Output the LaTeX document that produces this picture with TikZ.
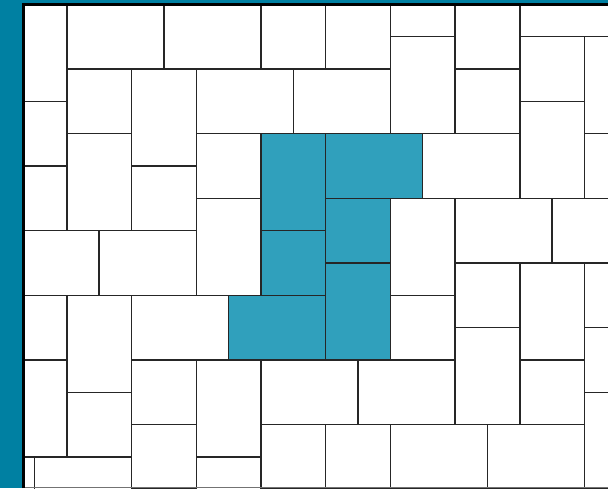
\documentclass[tikz,border=0pt]{standalone}
\definecolor{bgteal}{RGB}{0,128,162}
\definecolor{tileteal}{RGB}{48,160,188}
\tikzset{
  tile/.style={draw=black!85, line width=0.75pt, fill=white},
  tealtile/.style={draw=black!85, line width=0.75pt, fill=tileteal},
  frameline/.style={draw=black, line width=1.5pt}
}
\begin{document}
\begin{tikzpicture}[x=0.5pt,y=-0.5pt]
\useasboundingbox (0,0) rectangle (608,488);
\fill[bgteal] (0,0) rectangle (608,488);
\fill[white] (23.5,4.5) rectangle (608,488);
\begin{scope}
\clip (23.5,4.5) rectangle (608,488);
\begin{scope}[shift={(34.5,4.4)}, x=16.175pt, y=-16.16pt]
\foreach \a/\b/\c/\d in {
 -1/0/1/3, 1/0/4/2, 4/0/7/2, 7/0/9/2, 9/0/11/2, 11/-1/13/1, 11/1/13/4,
 13/0/15/2, 13/2/15/4, 15/-1/18/1, 15/1/17/3, 15/3/17/6, 17/1/19/4, 17/4/19/6,
 -1/3/1/5, -1/5/1/7, 1/2/3/4, 1/4/3/7, 3/2/5/5, 3/5/5/7, 5/2/8/4, 8/2/11/4,
 5/4/7/6, 5/6/7/9, 12/4/15/6, 11/6/13/9, 13/6/16/8, 16/6/19/8, 13/8/15/10,
 15/8/17/11, 17/8/19/10, -1/7/2/9, 2/7/5/9, -1/9/1/11, -1/11/1/14, 1/9/3/12,
 1/12/3/14, -2/14/0/16, 0/14/3/16, 3/9/6/11, 3/11/5/13, 3/13/5/15, 5/11/7/14,
 5/14/7/16, 7/11/10/13, 10/11/13/13, 11/9/13/11, 13/10/15/13, 15/11/17/13,
 17/10/19/12, 17/12/19/15, 7/13/9/15, 9/13/11/15, 11/13/14/15, 14/13/17/15}
  \draw[tile] (\a,\b) rectangle (\c,\d);
\foreach \a/\b/\c/\d in {7/4/9/7, 9/4/12/6, 9/6/11/8, 7/7/9/9, 6/9/9/11, 9/8/11/11}
  \draw[tealtile] (\a,\b) rectangle (\c,\d);
\end{scope}
\end{scope}
\draw[black!55, line width=0.5pt] (23.5,487.5) -- (608,487.5);
\draw[frameline] (23.5,488) -- (23.5,4.5) -- (608,4.5);
\end{tikzpicture}
\end{document}
